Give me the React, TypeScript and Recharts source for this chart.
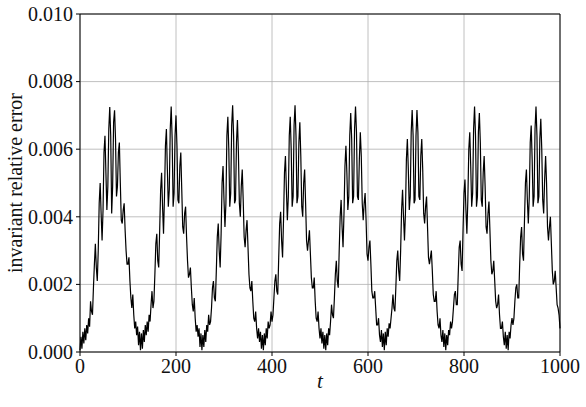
import {
  LineChart,
  Line,
  XAxis,
  YAxis,
  CartesianGrid,
  ReferenceLine,
} from "recharts";

// sampling step of the time axis
const T_STEP = 2;
// error values below are written in units of 1e-3
const ERR_UNIT = 1e-3;

const xTicks = [0, 200, 400, 600, 800, 1000];
const yTicks = [0, 0.002, 0.004, 0.006, 0.008, 0.01];

// one array per hump, every 2 time units
const hump1 = [
  0.05, 0.45, 0.1, 0.6, 0.25, 0.7, 0.35, 0.8, 0.55, 1.0,
  0.75, 1.5, 1.2, 1.1, 1.9, 2.6, 3.2, 2.5, 2.1, 3.0,
  4.4, 5.0, 4.1, 3.3, 4.2, 5.9, 6.4, 5.3, 4.2, 4.9,
  6.6, 7.25, 6.4, 4.1, 4.9, 6.8, 7.15, 6.3, 4.6, 4.9,
  5.9, 6.2, 5.0, 3.9, 3.8, 4.2, 4.4, 3.6, 3.0, 2.6,
  2.6, 2.8, 2.1, 1.6, 1.3, 1.7, 1.1, 0.7, 0.9, 0.5,
  0.75, 0.2, 0.6, 0.05, 0.55, 0.1,
];
const hump2 = [
  0.65, 0.3, 0.8, 0.5, 0.9, 0.6, 1.1, 0.9, 1.4, 1.8,
  1.3, 1.5, 2.3, 3.2, 3.5, 2.7, 2.5, 3.6, 4.8, 5.3,
  4.3, 3.5, 4.6, 6.1, 6.6, 5.4, 4.3, 4.8, 6.6, 7.26,
  6.3, 4.3, 4.7, 6.4, 7.0, 6.1, 4.5, 4.4, 5.5, 5.9,
  4.8, 3.7, 3.5, 4.1, 4.3, 3.4, 2.7, 2.2, 2.3, 2.5,
  1.9, 1.4, 1.2, 1.6, 1.0, 0.6, 0.8, 0.45, 0.7, 0.15,
  0.55, 0.05, 0.5, 0.15, 0.65,
];
const hump3 = [
  0.3, 0.8, 0.6, 1.1, 0.8, 0.9, 1.3, 1.9, 2.1, 1.6,
  1.5, 2.4, 3.4, 3.8, 3.0, 2.5, 3.5, 5.0, 5.5, 4.5,
  3.7, 4.4, 6.4, 6.96, 6.0, 4.3, 4.7, 6.7, 7.3, 6.4,
  4.4, 4.5, 6.2, 6.86, 5.9, 4.4, 4.0, 4.9, 5.4, 4.5,
  3.4, 3.1, 3.6, 3.9, 3.1, 2.3, 1.9, 1.8, 2.1, 1.5,
  1.0, 0.9, 1.2, 0.7, 0.4, 0.7, 0.3, 0.6, 0.1, 0.5,
  0.05, 0.55, 0.2,
];
const hump4 = [
  0.7, 0.4, 0.9, 0.7, 0.8, 1.2, 0.9, 1.1, 1.6, 2.1,
  2.3, 1.8, 1.7, 2.8, 3.8, 4.15, 3.3, 2.8, 3.9, 5.3,
  5.8, 4.8, 3.9, 4.6, 6.4, 6.96, 6.0, 4.3, 4.6, 6.7,
  7.3, 6.4, 4.4, 4.6, 6.2, 6.8, 5.8, 4.3, 4.0, 5.0,
  5.4, 4.4, 3.3, 3.0, 3.3, 3.6, 2.9, 2.2, 1.9, 1.9,
  2.2, 1.5, 1.0, 0.9, 1.2, 0.7, 0.4, 0.7, 0.25, 0.6,
  0.1, 0.5, 0.05, 0.55,
];
const hump5 = [
  0.2, 0.7, 0.5, 0.9, 1.4, 1.1, 1.0, 1.6, 2.3, 2.7,
  2.1, 1.9, 3.0, 4.0, 4.5, 3.7, 3.1, 4.1, 5.5, 6.1,
  5.3, 4.2, 4.6, 6.4, 7.07, 6.3, 4.4, 4.6, 6.6, 7.26,
  6.5, 4.6, 4.5, 5.7, 6.5, 5.8, 4.4, 3.9, 4.4, 4.7,
  3.9, 2.9, 2.7, 3.1, 3.3, 2.6, 1.8, 1.6, 1.6, 1.8,
  1.3, 0.8, 0.8, 1.0, 0.5, 0.3, 0.65, 0.15, 0.55, 0.05,
  0.6, 0.2,
];
const hump6 = [
  0.7, 0.45, 0.85, 0.7, 1.0, 1.3, 1.7, 1.3, 1.2, 1.9,
  2.7, 3.0, 2.4, 2.1, 3.0, 4.2, 4.8, 4.0, 3.3, 4.1,
  5.7, 6.3, 5.4, 4.2, 4.6, 6.5, 7.16, 6.4, 4.4, 4.5,
  6.4, 7.16, 6.5, 4.6, 4.5, 5.8, 6.3, 5.4, 4.1, 3.8,
  4.3, 4.6, 3.7, 2.8, 2.6, 2.8, 3.0, 2.4, 1.7, 1.5,
  1.5, 1.8, 1.2, 0.8, 0.7, 1.0, 0.5, 0.3, 0.65, 0.15,
  0.55, 0.05, 0.5, 0.2,
];
const hump7 = [
  0.65, 0.5, 0.9, 0.7, 0.9, 1.3, 1.7, 1.8, 1.4, 1.4,
  2.3, 3.1, 3.3, 2.6, 2.4, 3.6, 4.7, 5.1, 4.2, 3.5,
  4.5, 6.0, 6.5, 5.5, 4.3, 4.7, 6.6, 7.26, 6.4, 4.3,
  4.6, 6.5, 7.07, 6.2, 4.5, 4.3, 5.3, 5.8, 4.9, 3.7,
  3.5, 4.1, 4.45, 3.6, 2.7, 2.3, 2.4, 2.7, 2.1, 1.5,
  1.3, 1.4, 1.7, 1.1, 0.7, 0.7, 0.9, 0.45, 0.2, 0.6,
  0.1, 0.5, 0.05,
];
const hump8 = [
  0.6, 0.4, 0.8, 1.0, 0.8, 1.0, 1.5, 1.9, 2.0, 1.6,
  1.6, 2.6, 3.4, 3.7, 2.9, 2.7, 3.9, 5.0, 5.4, 4.5,
  3.8, 4.6, 6.2, 6.7, 5.7, 4.3, 4.6, 6.6, 7.26, 6.4,
  4.4, 4.6, 6.3, 6.9, 6.0, 4.5, 4.1, 5.1, 5.8, 5.0,
  3.7, 3.3, 3.7, 4.0, 3.2, 2.4, 2.0, 2.1, 2.4, 1.9,
  1.4, 1.3, 1.1, 0.7,
];

const errorSeries = [
  ...hump1, ...hump2, ...hump3, ...hump4,
  ...hump5, ...hump6, ...hump7, ...hump8,
];

const chartData = errorSeries.map((e, i) => ({
  t: i * T_STEP,
  err: e * ERR_UNIT,
}));

const FONT = '"Liberation Serif", "DejaVu Serif", serif';
const textStyle = { fill: "#111", fontSize: 20, fontFamily: FONT };

// plain svg text so the serif font is really used on the ticks
function XTick({ x, y, payload }: any) {
  return (
    <text x={x} y={y} dy="0.71em" textAnchor="middle" style={textStyle}>
      {payload.value}
    </text>
  );
}

function YTick({ x, y, payload }: any) {
  return (
    <text x={x} y={y} dy="0.34em" textAnchor="end" style={textStyle}>
      {Number(payload.value).toFixed(3)}
    </text>
  );
}

export default function App() {
  return (
    <div
      style={{
        position: "absolute",
        left: 0,
        top: 0,
        width: 586,
        height: 407,
        fontFamily: FONT,
      }}
    >
      <LineChart
        width={586}
        height={407}
        data={chartData}
        margin={{ top: 14, right: 26, bottom: 0, left: 0 }}
      >
        <CartesianGrid stroke="#b0b0b0" strokeWidth={0.8} />
        <XAxis
          dataKey="t"
          type="number"
          domain={[0, 1000]}
          ticks={xTicks}
          interval={0}
          height={55}
          tickSize={4}
          tickMargin={3}
          stroke="#000"
          tick={<XTick />}
          label={{
            value: "t",
            position: "insideBottom",
            offset: 19,
            style: { ...textStyle, fontSize: 21, fontStyle: "italic" },
          }}
        />
        <YAxis
          type="number"
          domain={[0, 0.01]}
          ticks={yTicks}
          interval={0}
          width={80}
          tickSize={4}
          tickMargin={3}
          stroke="#000"
          tick={<YTick />}
          label={{
            value: "invariant relative error",
            angle: -90,
            position: "insideLeft",
            offset: 15,
            style: { ...textStyle, textAnchor: "middle" },
          }}
        />
        <ReferenceLine x={1000} stroke="#000" />
        <ReferenceLine y={0.01} stroke="#000" />
        <Line
          type="linear"
          dataKey="err"
          stroke="#000"
          strokeWidth={1.2}
          dot={false}
          isAnimationActive={false}
        />
      </LineChart>
    </div>
  );
}
